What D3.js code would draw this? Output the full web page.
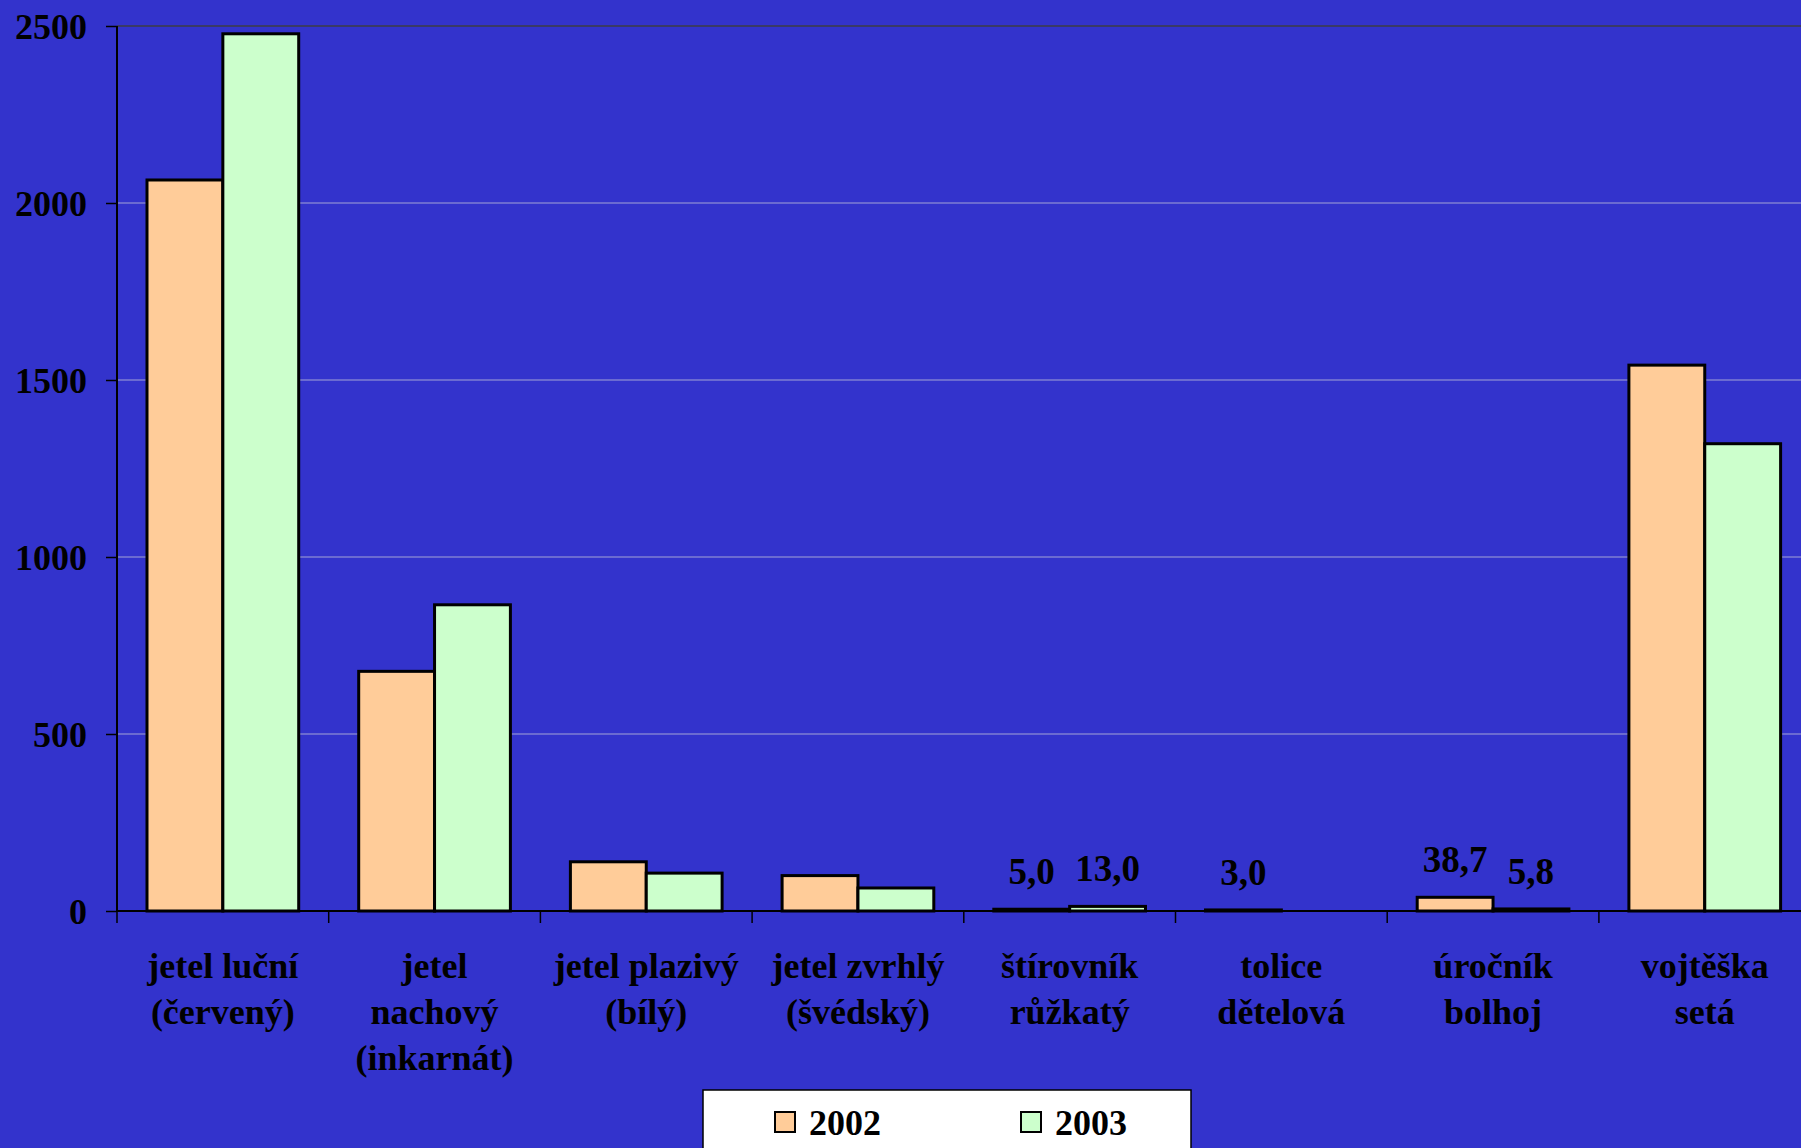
<!DOCTYPE html>
<html>
<head>
<meta charset="utf-8">
<script src="https://cdn.jsdelivr.net/npm/d3@7"></script>
<style>
  html, body { margin: 0; padding: 0; background: #3333cc; }
  svg { display: block; }
  text { font-family: "Liberation Serif", "Times New Roman", serif; font-weight: bold; fill: #000; }
</style>
</head>
<body>
<script>
// categories (each label split in lines as in the picture)
const categories = [
  ["jetel luční", "(červený)"],
  ["jetel", "nachový", "(inkarnát)"],
  ["jetel plazivý", "(bílý)"],
  ["jetel zvrhlý", "(švédský)"],
  ["štírovník", "růžkatý"],
  ["tolice", "dětelová"],
  ["úročník", "bolhoj"],
  ["vojtěška", "setá"]
];
const seriesNames = ["2002", "2003"];
const values2002 = [2065, 677, 139, 100, 5.0, 3.0, 38.7, 1542];
const values2003 = [2478, 865, 107, 65, 13.0, null, 5.8, 1320];
// labels shown only for the small values
const labels2002 = [null, null, null, null, "5,0", "3,0", "38,7", null];
const labels2003 = [null, null, null, null, "13,0", null, "5,8", null];
const yTicks = [0, 500, 1000, 1500, 2000, 2500];

const W = 1801, H = 1148;
const margin = {top: 26, left: 117};
const plotBottom = 911;
const step = 211.7;

const svg = d3.select("body").append("svg")
    .attr("width", W)
    .attr("height", H);

svg.append("rect").attr("width", W).attr("height", H).attr("fill", "#3333cc");

const keys = categories.map((c, i) => i);

const x = d3.scaleBand()
    .domain(keys)
    .range([margin.left, margin.left + step * categories.length])
    .padding(0);

const xInner = d3.scaleBand()
    .domain(seriesNames)
    .range([30, step - 30])
    .padding(0);

const y = d3.scaleLinear()
    .domain([0, 2500])
    .range([plotBottom, margin.top]);

const colors = {"2002": "#ffcc99", "2003": "#ccffcc"};

// gridlines
svg.append("g")
  .selectAll("line")
  .data(yTicks.filter(d => d > 0))
  .enter().append("line")
    .attr("x1", margin.left)
    .attr("x2", W)
    .attr("y1", d => y(d))
    .attr("y2", d => y(d))
    .attr("stroke", d => d === 2500 ? "#3a3a66" : "#a3a3d6")
    .attr("stroke-width", d => d === 2500 ? 2 : 1.2);

// bars
const rows = [];
categories.forEach((c, i) => {
  rows.push({cat: i, s: "2002", v: values2002[i], label: labels2002[i]});
  rows.push({cat: i, s: "2003", v: values2003[i], label: labels2003[i]});
});

const barData = rows.filter(d => d.v != null);

svg.append("g")
  .selectAll("rect")
  .data(barData)
  .enter().append("rect")
    .attr("x", d => x(d.cat) + xInner(d.s))
    .attr("y", d => y(d.v))
    .attr("width", xInner.bandwidth())
    .attr("height", d => Math.max(0, plotBottom - y(d.v)))
    .attr("fill", d => colors[d.s])
    .attr("stroke", "#000")
    .attr("stroke-width", 3);

// value labels
svg.append("g")
  .selectAll("text")
  .data(rows.filter(d => d.label))
  .enter().append("text")
    .attr("x", d => x(d.cat) + xInner(d.s) + xInner.bandwidth() / 2)
    .attr("y", d => y(d.v) - 25)
    .attr("text-anchor", "middle")
    .attr("font-size", 37)
    .text(d => d.label);

// y axis
const yAxis = svg.append("g")
    .attr("transform", "translate(" + margin.left + ",0)")
    .call(d3.axisLeft(y).tickValues(yTicks).tickFormat(d3.format("d")).tickSize(11).tickPadding(19));
yAxis.select(".domain").attr("stroke", "#000").attr("stroke-width", 2)
    .attr("d", "M0," + margin.top + "V" + plotBottom);
yAxis.selectAll(".tick line").attr("stroke", "#000").attr("stroke-width", 1.5);
yAxis.selectAll(".tick text")
    .attr("font-size", 36)
    .attr("font-family", "Liberation Serif, Times New Roman, serif")
    .attr("font-weight", "bold")
    .attr("fill", "#000")
    .attr("dy", "0.34em");

// x axis line and ticks
svg.append("line")
    .attr("x1", margin.left).attr("x2", W)
    .attr("y1", plotBottom).attr("y2", plotBottom)
    .attr("stroke", "#000").attr("stroke-width", 2);

svg.append("g")
  .selectAll("line")
  .data(keys)
  .enter().append("line")
    .attr("x1", d => x(d)).attr("x2", d => x(d))
    .attr("y1", plotBottom).attr("y2", plotBottom + 12)
    .attr("stroke", "#000").attr("stroke-width", 1.5);

// category labels
const catLabels = svg.append("g")
  .selectAll("text")
  .data(keys)
  .enter().append("text")
    .attr("text-anchor", "middle")
    .attr("font-size", 36)
    .attr("x", d => x(d) + step / 2)
    .attr("y", 978);

catLabels.selectAll("tspan")
  .data(d => categories[d].map(t => ({t, cx: x(d) + step / 2})))
  .enter().append("tspan")
    .attr("x", d => d.cx)
    .attr("dy", (d, i) => i === 0 ? 0 : 46)
    .text(d => d.t);

// legend
const legend = svg.append("g");
legend.append("rect")
    .attr("x", 703).attr("y", 1090)
    .attr("width", 488).attr("height", 80)
    .attr("fill", "#fff")
    .attr("stroke", "#000")
    .attr("stroke-width", 1.5);

const legendX = {"2002": 775, "2003": 1021};
const items = legend.selectAll("g.item")
  .data(seriesNames)
  .enter().append("g")
    .attr("class", "item");

items.append("rect")
    .attr("x", d => legendX[d]).attr("y", 1112)
    .attr("width", 20).attr("height", 20)
    .attr("fill", d => colors[d])
    .attr("stroke", "#000")
    .attr("stroke-width", 2);

items.append("text")
    .attr("x", d => legendX[d] + 34)
    .attr("y", 1135)
    .attr("font-size", 36)
    .text(d => d);
</script>
</body>
</html>
